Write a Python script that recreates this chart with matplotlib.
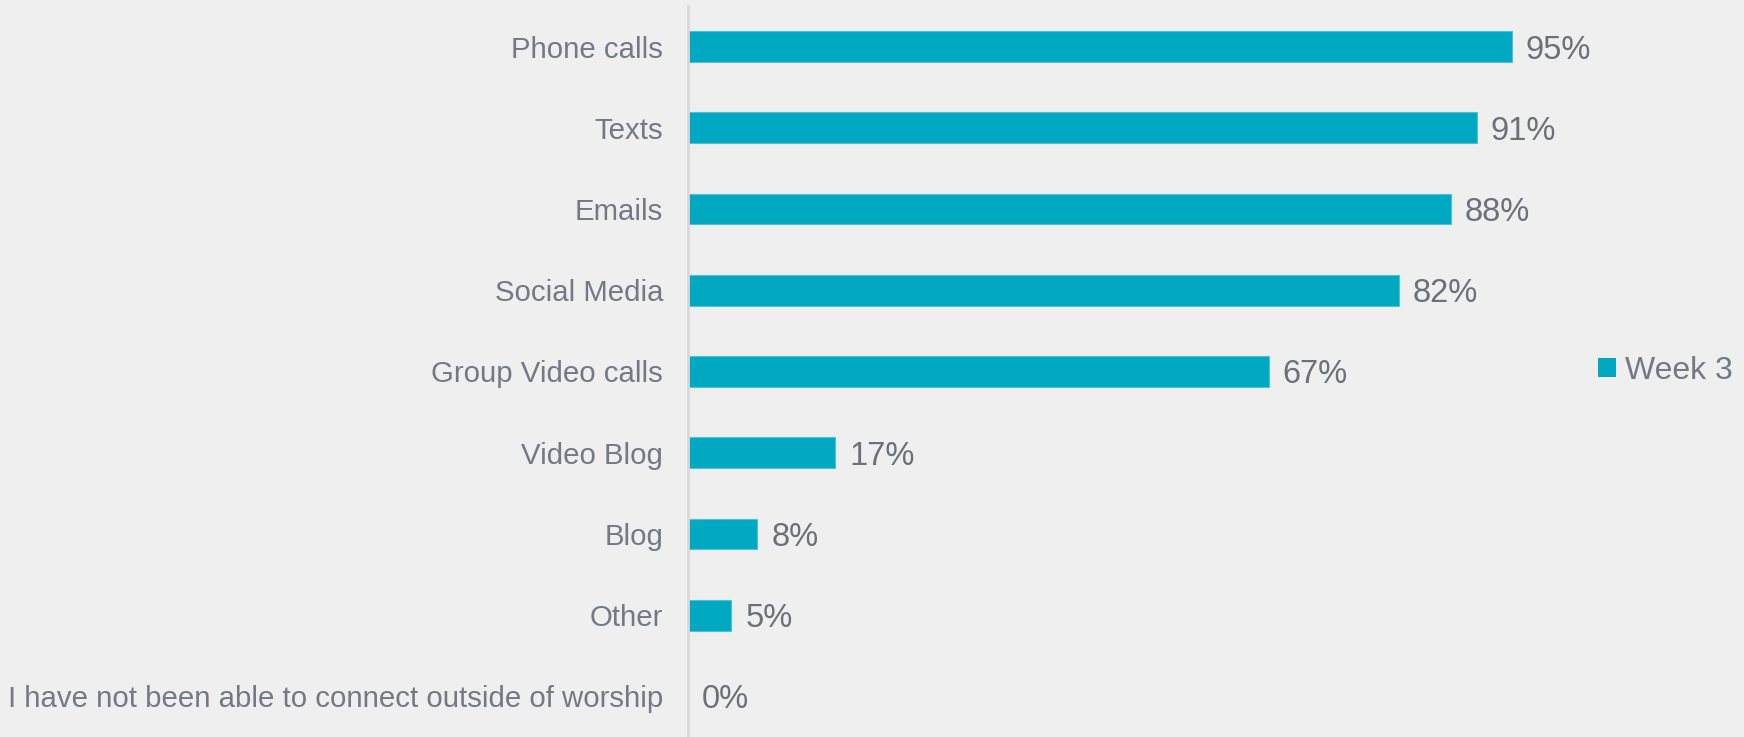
import matplotlib.pyplot as plt
from matplotlib.patches import Patch

plt.rcParams['font.family'] = ['Liberation Sans', 'DejaVu Sans']

# data
categories = ['Phone calls', 'Texts', 'Emails', 'Social Media', 'Group Video calls',
              'Video Blog', 'Blog', 'Other',
              'I have not been able to connect outside of worship']
values = [95, 91, 88, 82, 67, 17, 8, 5, 0]
series_name = 'Week 3'

bar_color = '#00A8C1'
text_color = '#737A85'
bg = '#EFEFEF'

fig = plt.figure(figsize=(17.44, 7.37), dpi=100, facecolor=bg)
ax = fig.add_axes([688/1744, 0.0, (1560-688)/1744, 731/737])
ax.set_facecolor(bg)

y = list(range(len(categories)))
ax.barh(y, values, height=0.38, color=bar_color, edgecolor='#4FC3D4', linewidth=0.8)
ax.set_ylim(len(categories)-0.5, -0.5)
ax.set_xlim(0, (1560-688)/8.67)

ax.set_yticks(y)
ax.set_yticklabels(categories, fontsize=21.2, color=text_color)
ax.tick_params(axis='y', length=0, pad=18)
ax.set_xticks([])

for s in ['top', 'right', 'bottom']:
    ax.spines[s].set_visible(False)
ax.spines['left'].set_color('#D9D9D9')
ax.spines['left'].set_linewidth(2)

# value labels
for yi, v in zip(y, values):
    ax.text(v + 1.6, yi, f'{v}%', va='center_baseline', ha='left', fontsize=23.5, color='#6B7079')

# legend
leg = fig.legend(handles=[Patch(facecolor=bar_color, label=series_name)],
                 loc='center left', bbox_to_anchor=(1598/1744, 1 - 371/737),
                 frameon=False, fontsize=23, labelcolor=text_color,
                 borderpad=0, borderaxespad=0,
                 handlelength=0.55, handleheight=0.55, handletextpad=0.3)

fig.savefig('out.png', dpi=100, facecolor=bg)
